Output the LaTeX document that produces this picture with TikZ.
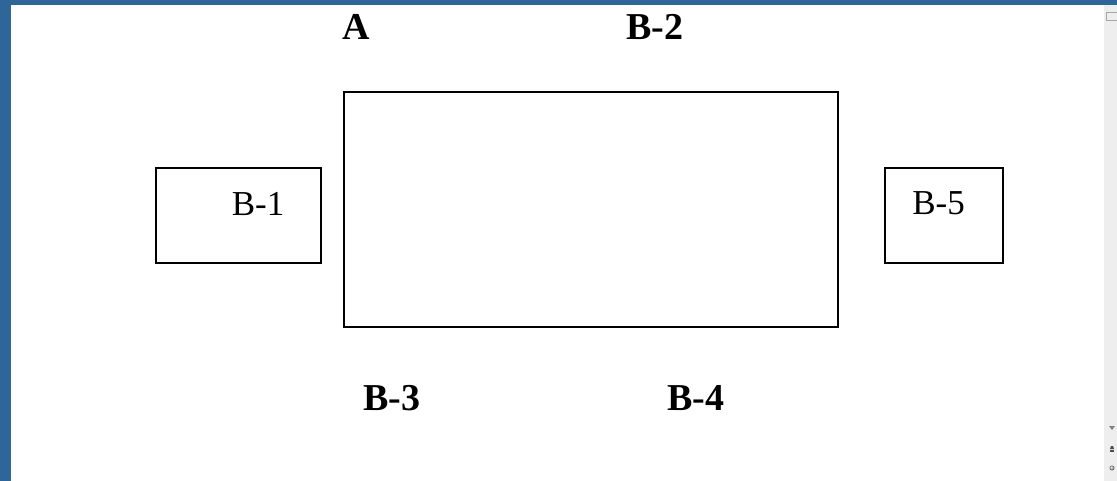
\documentclass[tikz,border=0pt]{standalone}
\usepackage{fontspec}
\setmainfont{Liberation Serif}
\definecolor{frameblue}{HTML}{2F6699}
\definecolor{scrollgray}{HTML}{EEEEEE}
\tikzset{
  box/.style={draw=black, line width=2pt},
  boldlabel/.style={anchor=base, inner sep=0pt, font=\fontsize{38}{42}\selectfont\bfseries},
  plainlabel/.style={anchor=base, inner sep=0pt, font=\fontsize{35}{40}\selectfont},
}
\begin{document}
\begin{tikzpicture}[x=1pt,y=-1pt]
\useasboundingbox (0,0) rectangle (1117,481);
\fill[white] (0,0) rectangle (1117,481);
% window frame
\fill[frameblue] (0,0) rectangle (1117,5);
\fill[frameblue] (0,0) rectangle (11,481);
% scrollbar
\fill[scrollgray] (1104,5) rectangle (1117,481);
\draw[gray!70, line width=0.8pt] (1106,12) rectangle (1117,20);
\fill[gray] (1109,426) -- (1115,426) -- (1112,430) -- cycle;
\fill[black!70] (1110,450) rectangle (1114,452);
\fill[black!70] (1111,446) -- (1113,446) -- (1114,449) -- (1110,449) -- cycle;
\shade[ball color=gray!60] (1112,468) circle (2.5);
% boxes
\coordinate (mainNW) at (344,92);
\coordinate (mainSE) at (838,327);
\draw[box] (mainNW) rectangle (mainSE);
\coordinate (b1NW) at (156,168);
\coordinate (b1SE) at (321,263);
\draw[box] (b1NW) rectangle (b1SE);
\coordinate (b5NW) at (885,168);
\coordinate (b5SE) at (1003,263);
\draw[box] (b5NW) rectangle (b5SE);
% labels
\node[boldlabel] (A) at (356.5,40) {A};
\node[boldlabel] (B2) at (654.5,40) {B-2};
\node[boldlabel] (B3) at (391.5,410) {B-3};
\node[boldlabel] (B4) at (696,410) {B-4};
\node[plainlabel] (B1) at (258,216) {B-1};
\node[plainlabel] (B5) at (938.5,215) {B-5};
\end{tikzpicture}
\end{document}
